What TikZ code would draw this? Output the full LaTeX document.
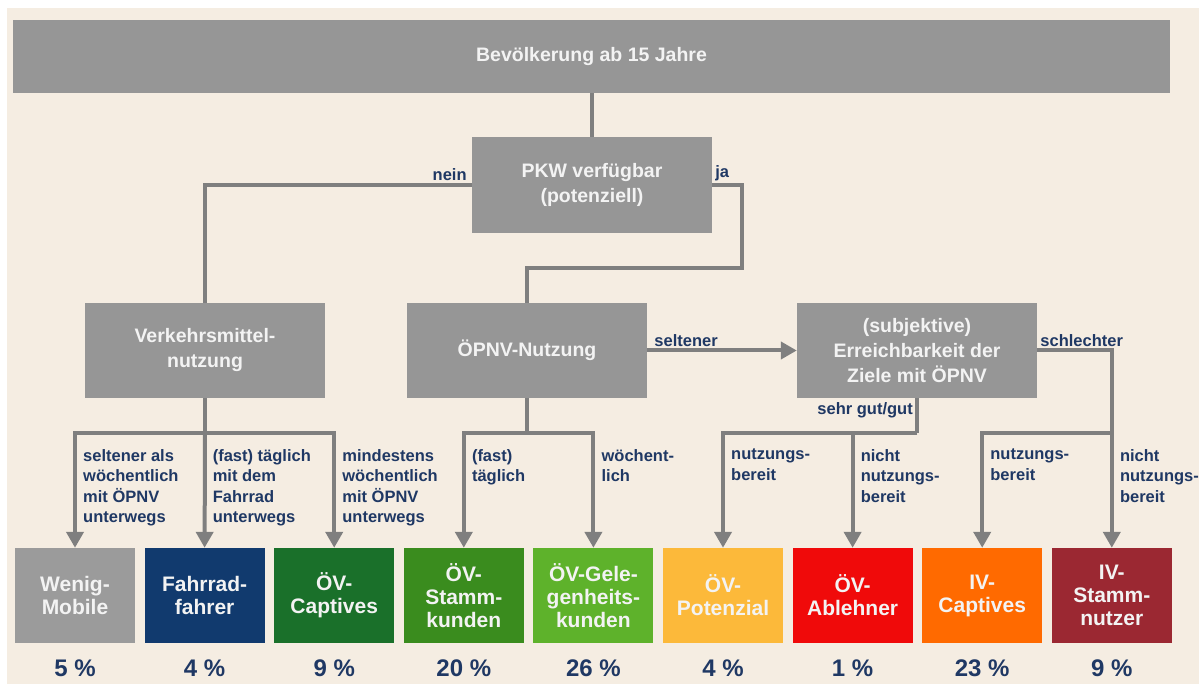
\documentclass[tikz,border=0pt]{standalone}
\usepackage{fontspec}
\setmainfont{Liberation Sans}
\usetikzlibrary{arrows.meta}
\definecolor{bg}{RGB}{245,237,226}
\definecolor{boxgrey}{RGB}{150,150,150}
\definecolor{linegrey}{RGB}{127,127,127}
\definecolor{boxtext}{RGB}{243,243,243}
\definecolor{navy}{RGB}{31,56,100}
\definecolor{cwenig}{RGB}{155,155,155}
\definecolor{cfahrrad}{RGB}{17,58,110}
\definecolor{coevcapt}{RGB}{26,112,42}
\definecolor{coevstamm}{RGB}{58,140,30}
\definecolor{coevgel}{RGB}{94,178,43}
\definecolor{coevpot}{RGB}{252,185,58}
\definecolor{coevabl}{RGB}{240,10,10}
\definecolor{civcapt}{RGB}{255,106,0}
\definecolor{civstamm}{RGB}{155,40,50}
\tikzset{
  grau/.style={fill=boxgrey, text=boxtext, font=\bfseries\fontsize{19.5}{25}\selectfont,
    align=center, inner sep=0pt, minimum width=240pt, minimum height=95pt},
  typ/.style={text=boxtext, font=\bfseries\fontsize{21}{23}\selectfont,
    align=center, inner sep=0pt, minimum width=120pt, minimum height=95pt},
  lbl/.style={text=navy, font=\bfseries\fontsize{16.5}{20.5}\selectfont, align=left, inner sep=1pt},
  pct/.style={text=navy, font=\bfseries\fontsize{24}{28}\selectfont, inner sep=0pt},
  con/.style={draw=linegrey, line width=4pt},
  arr/.style={con, -{Triangle[length=16pt,width=17pt]}},
}
\begin{document}
\begin{tikzpicture}[x=1pt,y=-1pt]
\useasboundingbox (0,0) rectangle (1199,684);
\fill[white] (0,0) rectangle (1199,684);
\fill[bg] (7,8) rectangle (1199,684);
% upper part
\node[grau, minimum width=1157pt, minimum height=73pt] (bev) at (591.5,56.5) {Bevölkerung ab 15 Jahre};
\node[grau, minimum height=96pt] (pkw) at (592,185) {PKW verfügbar\\(potenziell)};
\node[grau] (vm) at (205,350.5) {Verkehrsmittel-\\nutzung};
\node[grau] (oepnv) at (527,350.5) {ÖPNV-Nutzung};
\node[grau] (erreich) at (917,350.5) {(subjektive)\\Erreichbarkeit der\\Ziele mit ÖPNV};
% types in the bottom row
\foreach \name/\col/\txt/\pct/\lab [count=\i from 0] in {
  wenig/cwenig/{Wenig-\\Mobile}/5/{seltener als\\wöchentlich\\mit ÖPNV\\unterwegs},
  fahrrad/cfahrrad/{Fahrrad-\\fahrer}/4/{(fast) täglich\\mit dem\\Fahrrad\\unterwegs},
  oevcapt/coevcapt/{ÖV-\\Captives}/9/{mindestens\\wöchentlich\\mit ÖPNV\\unterwegs},
  oevstamm/coevstamm/{ÖV-\\Stamm-\\kunden}/20/{(fast)\\täglich},
  oevgel/coevgel/{ÖV-Gele-\\genheits-\\kunden}/26/{wöchent-\\lich},
  oevpot/coevpot/{ÖV-\\Potenzial}/4/{nutzungs-\\bereit},
  oevabl/coevabl/{ÖV-\\Ablehner}/1/{nicht\\nutzungs-\\bereit},
  ivcapt/civcapt/{IV-\\Captives}/23/{nutzungs-\\bereit},
  ivstamm/civstamm/{IV-\\Stamm-\\nutzer}/9/{nicht\\nutzungs-\\bereit}}{
  \node[typ, fill=\col] (\name) at ({75+129.6*\i},595.5) {\txt};
  \node[pct] (\name-pct) at ([yshift=-25pt]\name.south) {\pct~\%};
  \node[lbl, anchor=north west] (\name-lbl) at ({75+129.6*\i+7},448) {\lab};
}
\coordinate (jaknick) at (742,268);
\coordinate (vmfork) at (205,433);
\coordinate (oefork) at (527,433);
\coordinate (gutfork) at (917,433);
\coordinate (schlfork) at (ivstamm.north |- 0,433);
% connectors
\draw[con] (pkw.north) -- (pkw.north |- bev.south);
\draw[con] (pkw.west) -| (vm.north);
\draw[con] (pkw.east) -| (jaknick) -| (oepnv.north);
\draw[con] (vm.south) -- (vmfork);
\draw[arr] (vmfork) -| (wenig.north);
\draw[arr] (vmfork) -- (fahrrad.north);
\draw[arr] (vmfork) -| (oevcapt.north);
\draw[con] (oepnv.south) -- (oefork);
\draw[arr] (oefork) -| (oevstamm.north);
\draw[arr] (oefork) -| (oevgel.north);
\draw[arr] (oepnv.east) -- (erreich.west);
\draw[con] (erreich.south) -- (gutfork);
\draw[arr] (gutfork) -| (oevpot.north);
\draw[arr] (gutfork) -| (oevabl.north);
\draw[arr] (erreich.east) -| (ivstamm.north);
\draw[arr] (schlfork) -| (ivcapt.north);
% branch labels
\node[lbl, anchor=south east] (nein) at ([xshift=-4pt,yshift=3pt]pkw.west) {nein};
\node[lbl, anchor=south west] (ja) at ([xshift=2pt,yshift=3pt]pkw.east) {ja};
\node[lbl, anchor=south west] (selten) at ([xshift=6pt,yshift=3pt]oepnv.east) {seltener};
\node[lbl, anchor=south west] (schlecht) at ([xshift=2pt,yshift=3pt]erreich.east) {schlechter};
\node[lbl, anchor=north east] (gut) at ([xshift=-3pt,yshift=-3pt]erreich.south) {sehr gut/gut};
\end{tikzpicture}
\end{document}
